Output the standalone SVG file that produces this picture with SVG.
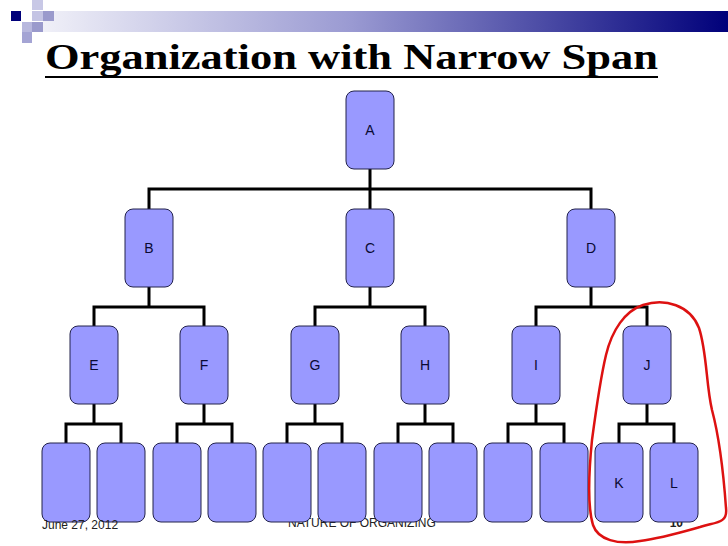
<svg xmlns="http://www.w3.org/2000/svg" width="728" height="546" viewBox="0 0 728 546">
<defs>
<linearGradient id="bar" x1="0" y1="0" x2="1" y2="0">
<stop offset="0" stop-color="#f0f0f8"/>
<stop offset="0.45" stop-color="#9a9ad2"/>
<stop offset="1" stop-color="#00007a"/>
</linearGradient>
<style>
.box{fill:#9999ff;stroke:#22224a;stroke-width:1}
.lbl{font-family:"Liberation Sans",Arial,sans-serif;font-size:14px;fill:#0a0a33;text-anchor:middle}
.wire{fill:none;stroke:#000;stroke-width:3;stroke-linecap:square}
.foot{font-family:"Liberation Sans",Arial,sans-serif;font-size:12px;fill:#222}
</style>
</defs>
<rect width="728" height="546" fill="#fff"/>
<g id="decor">
<rect x="43" y="11" width="685" height="21" fill="url(#bar)"/>
<rect x="32" y="0" width="11" height="10" fill="#c8c8e6"/>
<rect x="11" y="11" width="10" height="10" fill="#00007a"/>
<rect x="32" y="11" width="11" height="10" fill="#c4c4e4"/>
<rect x="43" y="11" width="11" height="10" fill="#9a9acc"/>
<rect x="22" y="22" width="10" height="10" fill="#b8b8de"/>
<rect x="32" y="22" width="11" height="10" fill="#9a9acc"/>
<rect x="22" y="32" width="10" height="11" fill="#a4a4d4"/>
</g>
<g id="title">
<text x="45" y="69" textLength="613" lengthAdjust="spacingAndGlyphs" font-family="'Liberation Serif','Times New Roman',serif" font-weight="bold" font-size="36" fill="#000">Organization with Narrow Span</text>
<rect x="45" y="76" width="613" height="2" fill="#000"/>
</g>
<g id="footer">
<text class="foot" x="288" y="527">NATURE OF ORGANIZING</text>
<text class="foot" x="683" y="527" font-weight="bold" text-anchor="end">10</text>
</g>
<g id="connectors">
<path class="wire" d="M370 169V189M149 189H591M149 189V209M370 189V209M591 189V209"/>
<path class="wire" d="M149 287V307M94 307H204M94 307V326M204 307V326"/>
<path class="wire" d="M370 287V307M315 307H425M315 307V326M425 307V326"/>
<path class="wire" d="M591 287V307M536 307H647M536 307V326M647 307V326"/>
<path class="wire" d="M94 404V424M66 424H121M66 424V443M121 424V443"/>
<path class="wire" d="M204 404V424M177 424H232M177 424V443M232 424V443"/>
<path class="wire" d="M315 404V424M287 424H342M287 424V443M342 424V443"/>
<path class="wire" d="M425 404V424M398 424H453M398 424V443M453 424V443"/>
<path class="wire" d="M536 404V424M508 424H564M508 424V443M564 424V443"/>
<path class="wire" d="M647 404V424M619 424H674M619 424V443M674 424V443"/>
</g>
<g id="A"><rect class="box" x="346" y="91" width="48" height="78" rx="8"/><text class="lbl" x="370" y="135">A</text></g>
<g id="B"><rect class="box" x="125" y="209" width="48" height="78" rx="8"/><text class="lbl" x="149" y="253">B</text></g>
<g id="C"><rect class="box" x="346" y="209" width="48" height="78" rx="8"/><text class="lbl" x="370" y="253">C</text></g>
<g id="D"><rect class="box" x="567" y="209" width="48" height="78" rx="8"/><text class="lbl" x="591" y="253">D</text></g>
<g id="E"><rect class="box" x="70" y="326" width="48" height="78" rx="8"/><text class="lbl" x="94" y="370">E</text></g>
<g id="F"><rect class="box" x="180" y="326" width="48" height="78" rx="8"/><text class="lbl" x="204" y="370">F</text></g>
<g id="G"><rect class="box" x="291" y="326" width="48" height="78" rx="8"/><text class="lbl" x="315" y="370">G</text></g>
<g id="H"><rect class="box" x="401" y="326" width="48" height="78" rx="8"/><text class="lbl" x="425" y="370">H</text></g>
<g id="I"><rect class="box" x="512" y="326" width="48" height="78" rx="8"/><text class="lbl" x="536" y="370">I</text></g>
<g id="J"><rect class="box" x="623" y="326" width="48" height="78" rx="8"/><text class="lbl" x="647" y="370">J</text></g>
<g id="n1"><rect class="box" x="42" y="443" width="48" height="79" rx="8"/></g>
<g id="n2"><rect class="box" x="97" y="443" width="48" height="79" rx="8"/></g>
<g id="n3"><rect class="box" x="153" y="443" width="48" height="79" rx="8"/></g>
<g id="n4"><rect class="box" x="208" y="443" width="48" height="79" rx="8"/></g>
<g id="n5"><rect class="box" x="263" y="443" width="48" height="79" rx="8"/></g>
<g id="n6"><rect class="box" x="318" y="443" width="48" height="79" rx="8"/></g>
<g id="n7"><rect class="box" x="374" y="443" width="48" height="79" rx="8"/></g>
<g id="n8"><rect class="box" x="429" y="443" width="48" height="79" rx="8"/></g>
<g id="n9"><rect class="box" x="484" y="443" width="48" height="79" rx="8"/></g>
<g id="n10"><rect class="box" x="540" y="443" width="48" height="79" rx="8"/></g>
<g id="K"><rect class="box" x="595" y="443" width="48" height="79" rx="8"/><text class="lbl" x="619" y="488">K</text></g>
<g id="L"><rect class="box" x="650" y="443" width="48" height="79" rx="8"/><text class="lbl" x="674" y="488">L</text></g>
<g id="date">
<text class="foot" x="42" y="529" font-size="12.5">June 27, 2012</text>
</g>
<g id="highlight">
<path d="M643 305 C665 298 690 305 699 328 C707 352 706 385 712 410 C720 440 724 480 726 508 C728 524 715 522 700 527 C682 532 662 538 640 541 C618 545 598 540 593 525 C587 505 589 470 592 440 C596 410 600 380 606 355 C612 330 625 311 643 305 Z" fill="none" stroke="#dd1111" stroke-width="2.5" stroke-linejoin="round"/>
</g>
</svg>
